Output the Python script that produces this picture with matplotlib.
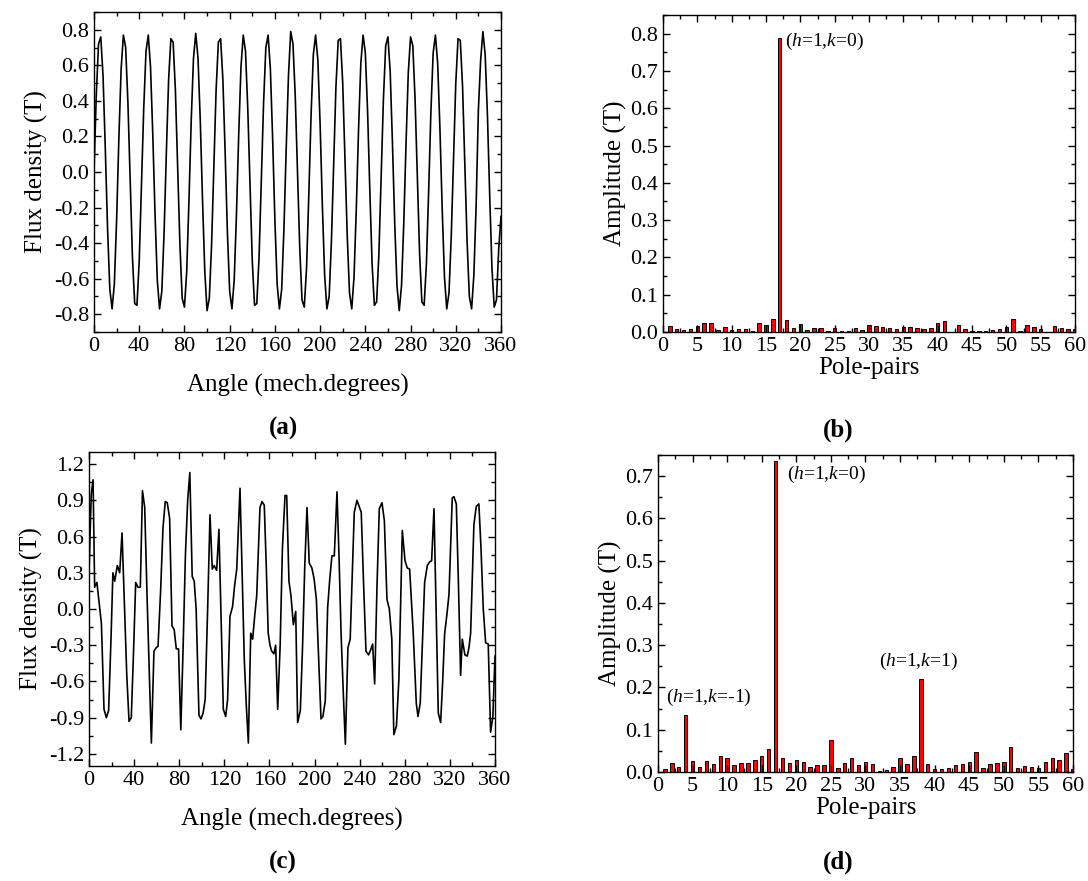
import numpy as np
import matplotlib
matplotlib.use("Agg")
import matplotlib.pyplot as plt
from matplotlib.ticker import MultipleLocator

plt.rcParams['font.family'] = ['Liberation Serif', 'DejaVu Serif']
plt.rcParams['mathtext.fontset'] = 'custom'
plt.rcParams['mathtext.rm'] = 'Liberation Serif'
plt.rcParams['mathtext.it'] = 'Liberation Serif:italic'
plt.rcParams['axes.unicode_minus'] = False

# ---------------- data ----------------
angle_a = np.arange(0, 361, 2)
flux_a = [0.00, 0.43, 0.72, 0.76, 0.54, 0.13, -0.32, -0.66, -0.77, -0.63, -0.27,
          0.19, 0.58, 0.77, 0.70, 0.39, -0.05, -0.48, -0.74, -0.75, -0.50, -0.08,
          0.36, 0.68, 0.77, 0.59, 0.21, -0.24, -0.61, -0.77, -0.67, -0.34,
          0.11, 0.52, 0.75, 0.73, 0.46, 0.03, -0.41, -0.71, -0.76, -0.56, -0.16,
          0.29, 0.64, 0.78, 0.64, 0.29, -0.16, -0.56, -0.78, -0.71, -0.41,
          0.03, 0.46, 0.73, 0.75, 0.52, 0.11, -0.34, -0.67, -0.77, -0.61, -0.24,
          0.21, 0.59, 0.77, 0.68, 0.36, -0.08, -0.50, -0.75, -0.74, -0.48, -0.05,
          0.39, 0.70, 0.77, 0.58, 0.19, -0.27, -0.63, -0.77, -0.66, -0.32,
          0.13, 0.54, 0.79, 0.72, 0.43, 0.00, -0.43, -0.72, -0.76, -0.54, -0.13,
          0.32, 0.66, 0.77, 0.63, 0.27, -0.19, -0.58, -0.77, -0.70, -0.39,
          0.05, 0.48, 0.74, 0.75, 0.50, 0.08, -0.36, -0.68, -0.77, -0.59, -0.21,
          0.24, 0.61, 0.77, 0.67, 0.34, -0.11, -0.52, -0.75, -0.73, -0.46, -0.03,
          0.41, 0.71, 0.76, 0.56, 0.16, -0.29, -0.64, -0.78, -0.64, -0.29,
          0.16, 0.56, 0.76, 0.71, 0.41, -0.03, -0.46, -0.73, -0.75, -0.52, -0.11,
          0.34, 0.67, 0.77, 0.61, 0.24, -0.21, -0.59, -0.77, -0.68, -0.36,
          0.08, 0.50, 0.75, 0.74, 0.48, 0.05, -0.39, -0.70, -0.77, -0.58, -0.19,
          0.35, 0.63, 0.79, 0.66, 0.32, -0.13, -0.54, -0.76, -0.72, -0.43, -0.25]

angle_c = [0, 2, 3.6, 5, 7, 9, 11, 13.3, 15.4, 17.4, 19.5, 21.2, 22.8, 25.1, 27.2, 29.3,
           31.5, 33.5, 35.5, 37.5, 39.5, 41.4, 43.4, 45.5, 47.4, 49.4, 51.5, 53.5, 55.3,
           57.6, 59.5, 61.2, 63.5, 65.6, 67.6, 69.4, 71.5, 73.6, 75.5, 77.4, 79.4, 81.4,
           83.5, 85.5, 87.5, 89.4, 91.5, 93.3, 95, 97.5, 99.3, 101.2, 103, 105.2, 107.3,
           109.3, 111, 113.2, 115.2, 117.2, 119.1, 121.2, 122.9, 125, 127.3, 129.2, 131,
           133.9, 135.8, 137.7, 139.5, 141.3, 143.4, 145.1, 147, 148.7, 150.3, 151.6,
           153.4, 155.4, 157.2, 158.9, 160.5, 162, 164, 165.5, 167.3, 169.5, 171.5,
           173.8, 175.3, 177.3, 179.1, 181.2, 183.3, 185, 187.4, 189.4, 191.3, 193.3,
           195.3, 197.6, 199.6, 201.6, 203.6, 205.7, 207.4, 209.5, 211.6, 213.5, 215.4,
           217.5, 219.9, 221.8, 223.5, 225.5, 227.3, 229.6, 231.6, 233.5, 235.2, 237.6,
           239.5, 241.4, 243.5, 245.6, 247.9, 249.7, 251.5, 253.3, 255.4, 257.4, 259.8,
           261.9, 264.2, 266.3, 268.5, 270.3, 272.6, 274.8, 277.8, 280.2, 282.2, 284.3,
           286, 287.5, 290.2, 291.7, 293.7, 295.6, 297.6, 300, 302, 303.8, 305.9, 307.8,
           309.7, 311.8, 313.6, 315.3, 317.3, 319.2, 322.1, 323.6, 325.7, 327.6, 329.5,
           331, 333.3, 335.4, 336.9, 338.4, 340, 341.3, 343.4, 345.7, 347.6, 349.6,
           351.7, 354, 356.1, 358.1, 360]
flux_c = [0.30, 0.95, 1.07, 0.18, 0.22, 0.05, -0.12, -0.83, -0.90, -0.84, -0.25, 0.30, 0.23, 0.36, 0.30, 0.63,
          0.00, -0.55, -0.93, -0.90, -0.35, 0.22, 0.18, 0.18, 0.98, 0.84, 0.10, -0.55, -1.11,
          -0.35, -0.32, -0.31, 0.15, 0.67, 0.89, 0.88, 0.75, -0.14, -0.17, -0.33, -0.33, -1.00,
          -0.30, 0.45, 0.90, 1.13, 0.27, 0.23, 0.00, -0.88, -0.91, -0.86, -0.75, 0.00, 0.78,
          0.33, 0.36, 0.32, 0.66, -0.10, -0.83, -0.89, -0.75, -0.06, 0.02, 0.20, 0.33,
          1.00, 0.30, -0.42, -0.80, -1.11, -0.20, -0.25, -0.05, 0.11, 0.50, 0.84,
          0.89, 0.86, 0.35, -0.20, -0.30, -0.35, -0.37, -0.30, -0.83, -0.30, 0.50,
          0.94, 0.94, 0.23, 0.11, -0.13, -0.02, -0.94, -0.84, -0.30, 0.35, 0.84,
          0.38, 0.34, 0.25, 0.08, -0.40, -0.91, -0.89, -0.76, 0.01, 0.25, 0.44,
          0.44, 0.97, 0.40, -0.20, -0.70, -1.12, -0.32, -0.25, 0.30, 0.80, 0.90,
          0.85, 0.80, 0.20, -0.35, -0.38, -0.34, -0.29, -0.62, 0.20, 0.83, 0.88,
          0.73, 0.08, 0.00, -0.25, -1.04, -0.97, -0.58, 0.65, 0.40, 0.34, 0.33,
          0.05, -0.20, -0.78, -0.89, -0.78, -0.30, 0.22, 0.36, 0.39, 0.40, 0.83, 0.00,
          -0.86, -0.94, -0.60, -0.21, -0.05, 0.12, 0.92, 0.93, 0.87, 0.20, -0.55,
          -0.25, -0.38, -0.39, -0.32, -0.20, 0.30, 0.70, 0.85, 0.87, 0.50, 0.00,
          -0.28, -0.29, -1.02, -0.89, -0.39]

poles = np.arange(1, 61)
amp_b = [0.015, 0.009, 0.006, 0.008, 0.015, 0.024, 0.024, 0.005, 0.013, 0.005,
         0.007, 0.009, 0.003, 0.023, 0.019, 0.036, 0.787, 0.031, 0.012, 0.022,
         0.005, 0.010, 0.010, 0.004, 0.011, 0.003, 0.004, 0.010, 0.005, 0.018,
         0.015, 0.013, 0.010, 0.009, 0.013, 0.014, 0.010, 0.008, 0.012, 0.024,
         0.029, 0.001, 0.018, 0.007, 0.002, 0.004, 0.003, 0.006, 0.007, 0.013,
         0.035, 0.002, 0.020, 0.013, 0.007, 0.001, 0.015, 0.010, 0.007, 0.007]
amp_d = [0.008, 0.021, 0.013, 0.135, 0.027, 0.013, 0.027, 0.020, 0.037, 0.033,
         0.016, 0.021, 0.021, 0.029, 0.037, 0.054, 0.735, 0.034, 0.021, 0.029,
         0.023, 0.012, 0.016, 0.017, 0.075, 0.010, 0.021, 0.032, 0.017, 0.024,
         0.018, 0.002, 0.004, 0.013, 0.033, 0.018, 0.037, 0.221, 0.018, 0.008,
         0.006, 0.010, 0.017, 0.018, 0.023, 0.048, 0.010, 0.020, 0.022, 0.024,
         0.058, 0.010, 0.014, 0.013, 0.009, 0.024, 0.032, 0.029, 0.045, 0.007]

ann_b = [("($\\mathit{h}$=1,$\\mathit{k}$=0)", 17.8, 0.78)]
ann_d = [("($\\mathit{h}$=1,$\\mathit{k}$=0)", 18.6, 0.705),
         ("($\\mathit{h}$=1,$\\mathit{k}$=1)", 32.0, 0.262),
         ("($\\mathit{h}$=1,$\\mathit{k}$=-1)", 1.2, 0.176)]

# ---------------- figure ----------------
W, H = 1088, 881
fig = plt.figure(figsize=(W / 100, H / 100), dpi=100)

def px_axes(x0, y0, x1, y1):
    return fig.add_axes([x0 / W, 1 - y1 / H, (x1 - x0) / W, (y1 - y0) / H])

TICK = 16
LAB = 18

def style(ax):
    for s in ax.spines.values():
        s.set_linewidth(1.0)
    ax.tick_params(which='both', direction='in', top=True, right=True,
                   labelsize=TICK, width=1.0)
    ax.tick_params(which='major', length=5)
    ax.tick_params(which='minor', length=3)

ax_a = px_axes(94, 12, 501, 332)
ax_b = px_axes(663, 15, 1075, 332)
ax_c = px_axes(89, 452, 495, 766)
ax_d = px_axes(658, 455, 1073, 772)

for ax, ang, fl, ylim, ymaj in [(ax_a, angle_a, flux_a, 0.9, 0.2),
                                (ax_c, angle_c, flux_c, 1.3, 0.3)]:
    ax.plot(ang, fl, color='black', lw=1.2)
    ax.set_xlim(0, 360)
    ax.set_ylim(-ylim, ylim)
    ax.xaxis.set_major_locator(MultipleLocator(40))
    ax.xaxis.set_minor_locator(MultipleLocator(20))
    ax.yaxis.set_major_locator(MultipleLocator(ymaj))
    ax.yaxis.set_minor_locator(MultipleLocator(ymaj / 2))
    ax.yaxis.set_major_formatter(matplotlib.ticker.FormatStrFormatter('%.1f'))
    ax.set_xlabel('Angle (mech.degrees)', fontsize=LAB, labelpad=13)
    ax.set_ylabel('Flux density (T)', fontsize=LAB, labelpad=4)
    style(ax)

for ax, amp, top, anns in [(ax_b, amp_b, 0.85, ann_b), (ax_d, amp_d, 0.75, ann_d)]:
    ax.bar(poles, amp, width=0.5, color='#ff0000', edgecolor='black', linewidth=0.7)
    ax.set_xlim(0, 60)
    ax.set_ylim(0, top)
    ax.xaxis.set_major_locator(MultipleLocator(5))
    ax.xaxis.set_minor_locator(MultipleLocator(2.5))
    ax.yaxis.set_major_locator(MultipleLocator(0.1))
    ax.yaxis.set_minor_locator(MultipleLocator(0.05))
    ax.yaxis.set_major_formatter(matplotlib.ticker.FormatStrFormatter('%.1f'))
    ax.set_xlabel('Pole-pairs', fontsize=LAB, labelpad=1)
    ax.set_ylabel('Amplitude (T)', fontsize=LAB, labelpad=2)
    for txt, x, y in anns:
        ax.text(x, y, txt, fontsize=14, ha='left', va='center')
    style(ax)

for lab, x, y in [('(a)', 283, 428), ('(b)', 838, 430), ('(c)', 283, 862), ('(d)', 838, 862)]:
    fig.text(x / W, 1 - y / H, lab, fontsize=LAB, fontweight='bold', ha='center', va='center')

fig.savefig('out.png', dpi=100)
